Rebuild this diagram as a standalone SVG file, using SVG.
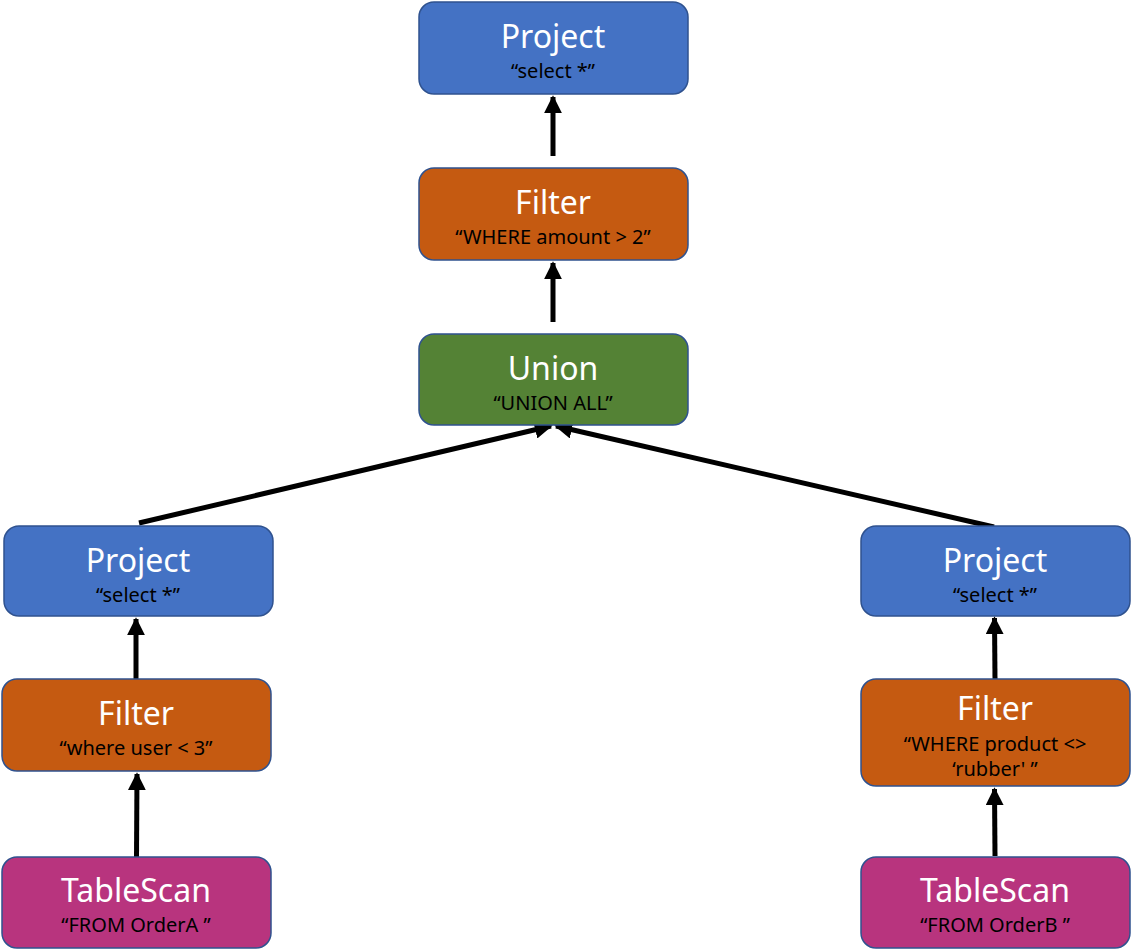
<svg xmlns="http://www.w3.org/2000/svg" width="1132" height="950" viewBox="0 0 1132 950">
<defs>
<style>
.box{stroke:#2F528F;stroke-width:1.5}
.blue{fill:#4472C4}.orange{fill:#C55A11}.green{fill:#548235}.mag{fill:#B8347E}
.t{font-family:"Noto Sans","Open Sans",sans-serif;font-size:32px;fill:#fff;text-anchor:middle}
.s{font-family:"Noto Sans","Open Sans",sans-serif;font-size:20px;fill:#000;text-anchor:middle}
.c{stroke:#000;stroke-width:5;fill:none;marker-end:url(#ah)}
</style>
<marker id="ah" viewBox="0 0 10 10" refX="9" refY="5" markerWidth="3.6" markerHeight="3.6" orient="auto" markerUnits="strokeWidth">
<path d="M0,0L10,5L0,10z" fill="#000"/>
</marker>
</defs>
<rect width="1132" height="950" fill="#fff"/>
<g id="connectors">
<line class="c" x1="553" y1="156" x2="553" y2="97"/>
<line class="c" x1="553" y1="322" x2="553" y2="263"/>
<line class="c" x1="139" y1="523" x2="551" y2="426"/>
<line class="c" x1="994" y1="527" x2="556" y2="426"/>
<line class="c" x1="136" y1="679" x2="136" y2="619"/>
<line class="c" x1="136.5" y1="857" x2="137" y2="774"/>
<line class="c" x1="995" y1="680" x2="994.5" y2="618"/>
<line class="c" x1="995" y1="856" x2="994.5" y2="789"/>
</g>
<g id="project-top">
<rect class="box blue" x="419" y="2" width="269" height="92" rx="15"/>
<text class="t" x="553" y="48">Project</text>
<text class="s" x="553" y="78">“select *”</text>
</g>
<g id="filter-top">
<rect class="box orange" x="419" y="168" width="269" height="92" rx="15"/>
<text class="t" x="553" y="214">Filter</text>
<text class="s" x="553" y="244">“WHERE amount &gt; 2”</text>
</g>
<g id="union">
<rect class="box green" x="419" y="334" width="269" height="91" rx="15"/>
<text class="t" x="553" y="380">Union</text>
<text class="s" x="553" y="410">“UNION ALL”</text>
</g>
<g id="project-left">
<rect class="box blue" x="4" y="526" width="269" height="90" rx="15"/>
<text class="t" x="138" y="572">Project</text>
<text class="s" x="138" y="602">“select *”</text>
</g>
<g id="filter-left">
<rect class="box orange" x="2" y="679" width="269" height="92" rx="15"/>
<text class="t" x="136" y="725">Filter</text>
<text class="s" x="136" y="755">“where user &lt; 3”</text>
</g>
<g id="tablescan-left">
<rect class="box mag" x="2" y="857" width="269" height="91" rx="15"/>
<text class="t" x="136" y="902">TableScan</text>
<text class="s" x="136" y="932">“FROM OrderA ”</text>
</g>
<g id="project-right">
<rect class="box blue" x="861" y="526" width="269" height="90" rx="15"/>
<text class="t" x="995" y="572">Project</text>
<text class="s" x="995" y="602">“select *”</text>
</g>
<g id="filter-right">
<rect class="box orange" x="861" y="679" width="269" height="107" rx="15"/>
<text class="t" x="995" y="720">Filter</text>
<text class="s" x="995" y="751">“WHERE product &lt;&gt;</text>
<text class="s" x="995" y="776">‘rubber' ”</text>
</g>
<g id="tablescan-right">
<rect class="box mag" x="861" y="857" width="269" height="91" rx="15"/>
<text class="t" x="995" y="902">TableScan</text>
<text class="s" x="995" y="932">“FROM OrderB ”</text>
</g>
</svg>
